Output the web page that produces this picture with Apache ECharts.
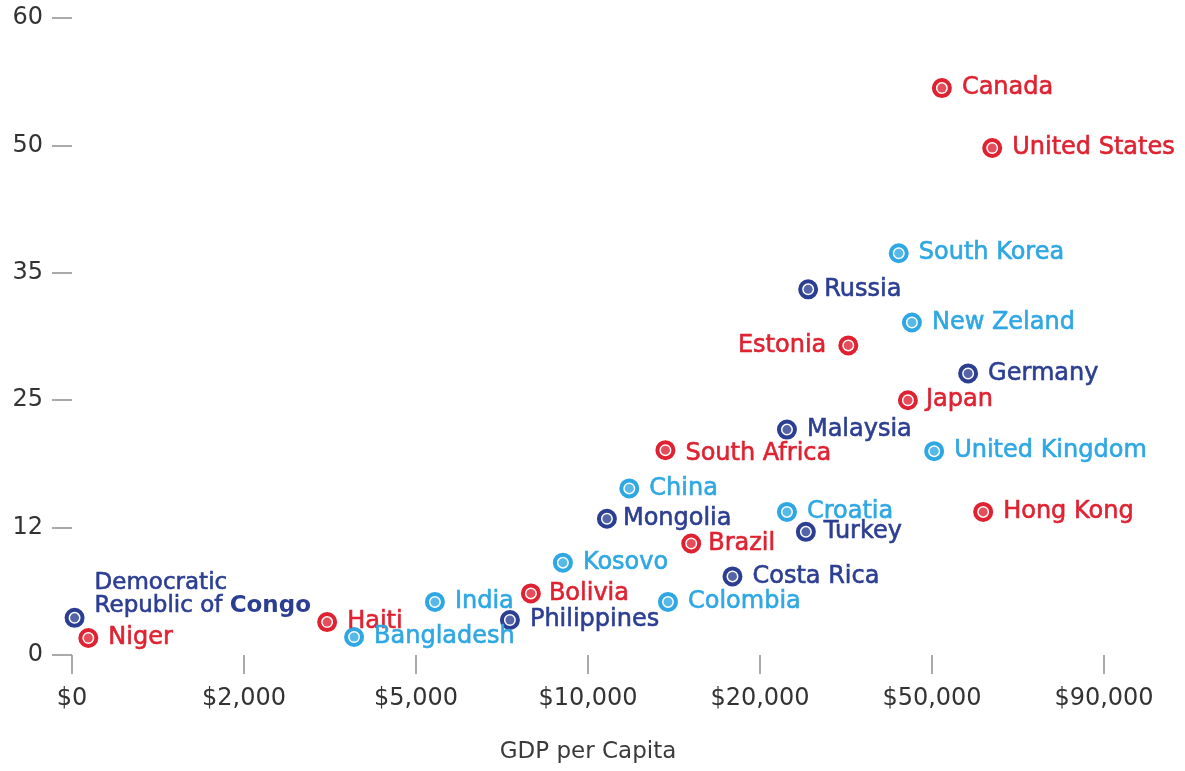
<!DOCTYPE html>
<html>
<head>
<meta charset="utf-8">
<script src="https://cdn.jsdelivr.net/npm/echarts@6/dist/echarts.min.js"></script>
<style>
  html, body { margin: 0; padding: 0; background: #fff; }
  #chart { width: 1185px; height: 771px; }
</style>
</head>
<body>
<div id="chart"></div>
<script>
// ---- Data ----
const xTickLabels = ['$0', '$2,000', '$5,000', '$10,000', '$20,000', '$50,000', '$90,000'];
const xTickValues = [0, 2000, 5000, 10000, 20000, 50000, 90000];
const yTickLabels = ['0', '12', '25', '35', '50', '60'];
const yTickValues = [0, 12, 25, 35, 50, 60];

const countries = ['Canada', 'United States', 'South Korea', 'Russia', 'New Zeland', 'Estonia',
  'Germany', 'Japan', 'Malaysia', 'South Africa', 'United Kingdom', 'China', 'Mongolia',
  'Croatia', 'Hong Kong', 'Turkey', 'Brazil', 'Kosovo', 'Costa Rica', 'Bolivia', 'India',
  'Colombia', 'Philippines', 'Haiti', 'Democratic Republic of Congo', 'Niger', 'Bangladesh'];
const gdpPerCapita = [52300, 64000, 44200, 28400, 46500, 35400,
  58400, 45800, 24700, 14500, 50500, 12400, 11100,
  24700, 61900, 28000, 16000, 9270, 18400, 8340, 5550,
  14650, 7730, 3450, 30, 190, 3920];
const yValues = [54.5, 49.7, 37.3, 33.7, 31.1, 29.3,
  27.1, 25.0, 22.0, 19.9, 19.8, 16.0, 12.9,
  13.6, 13.6, 11.6, 10.5, 8.7, 7.4, 5.8, 5.0,
  5.0, 3.3, 3.1, 3.5, 1.6, 1.7];
const groups = ['red', 'red', 'light', 'dark', 'light', 'red',
  'dark', 'red', 'dark', 'red', 'light', 'light', 'dark',
  'light', 'red', 'dark', 'red', 'light', 'dark', 'red', 'light',
  'light', 'dark', 'red', 'dark', 'red', 'light'];

// ---- Styles ----
const palette = { red: '#df2231', dark: '#2c3e92', light: '#2ea7e3' };
const FONT = '"DejaVu Sans", sans-serif';
const labelTweaks = {
  'Estonia': { position: 'left', distance: 12 },
  'Russia': { distance: 6 },
  'Mongolia': { distance: 6 },
  'Brazil': { distance: 7 },
  'Japan': { distance: 8 },
  'Bolivia': { distance: 8 },
  'Turkey': { distance: 8 },
  'South Africa': { offset: [0, 4] }
};

// piecewise mapping of real values onto the evenly spaced tick positions
function toAxis(v, breaks) {
  for (let i = 0; i < breaks.length - 1; i++) {
    if (v <= breaks[i + 1]) {
      return i + (v - breaks[i]) / (breaks[i + 1] - breaks[i]);
    }
  }
  return breaks.length - 1;
}

const ringData = countries.map((name, i) => {
  const c = palette[groups[i]];
  const tw = labelTweaks[name] || {};
  const d = {
    name: name,
    value: [toAxis(gdpPerCapita[i], xTickValues), toAxis(yValues[i], yTickValues)],
    itemStyle: { borderColor: c },
    label: {
      color: c,
      textBorderColor: c,
      textBorderWidth: 0.6,
      position: tw.position || 'right',
      distance: tw.distance != null ? tw.distance : 10,
      offset: tw.offset || [0, 0]
    }
  };
  if (name === 'Democratic Republic of Congo') {
    d.label = {
      position: 'right',
      distance: 10,
      offset: [0, -23],
      formatter: '{a|Democratic}\n{a|Republic of }{b|Congo}',
      rich: {
        a: { color: c, fontSize: 23, fontFamily: FONT, lineHeight: 23, textBorderColor: c, textBorderWidth: 0.6 },
        b: { color: c, fontSize: 23, fontFamily: FONT, fontWeight: 'bold', lineHeight: 23 }
      }
    };
  }
  return d;
});
const dotData = countries.map((name, i) => ({
  name: name,
  value: [toAxis(gdpPerCapita[i], xTickValues), toAxis(yValues[i], yTickValues)],
  itemStyle: { color: palette[groups[i]] }
}));

const chart = echarts.init(document.getElementById('chart'), null, { renderer: 'canvas' });
chart.setOption({
  animation: false,
  backgroundColor: '#ffffff',
  grid: { left: 72, right: 81, top: 18, bottom: 116 },
  xAxis: {
    type: 'value', min: 0, max: 6, interval: 1,
    axisLine: { show: false },
    splitLine: { show: false },
    axisTick: { show: true, length: 19, lineStyle: { color: '#8f8f8f', width: 1.5 } },
    axisLabel: {
      margin: 32, fontSize: 24, color: '#333333', fontFamily: FONT,
      formatter: v => xTickLabels[Math.round(v)] || ''
    },
    name: 'GDP per Capita', nameLocation: 'middle', nameGap: 86,
    nameTextStyle: { fontSize: 23, color: '#3a3a3a', fontFamily: FONT }
  },
  yAxis: {
    type: 'value', min: 0, max: 5, interval: 1,
    axisLine: { show: false },
    splitLine: { show: false },
    axisTick: { show: true, length: 20, lineStyle: { color: '#8f8f8f', width: 1.5 } },
    axisLabel: {
      margin: 29, fontSize: 24, color: '#333333', fontFamily: FONT,
      formatter: v => yTickLabels[Math.round(v)] || ''
    }
  },
  series: [
    {
      type: 'scatter', name: 'rings', symbol: 'circle', symbolSize: 16, z: 2,
      itemStyle: { color: '#ffffff', borderWidth: 4, opacity: 1 },
      label: { show: true, formatter: '{b}', fontSize: 24, fontFamily: FONT },
      emphasis: { disabled: true },
      data: ringData
    },
    {
      type: 'scatter', name: 'dots', symbol: 'circle', symbolSize: 9, z: 3,
      emphasis: { disabled: true },
      data: dotData
    }
  ]
});
</script>
</body>
</html>
